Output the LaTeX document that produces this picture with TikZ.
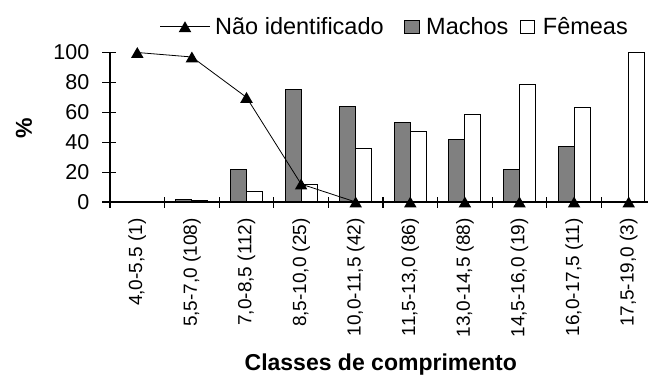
\documentclass[tikz,border=0pt]{standalone}
\usepackage{fontspec}
\setmainfont{Liberation Sans}
\usetikzlibrary{shapes.geometric}

\begin{document}
\begin{tikzpicture}[x=1pt, y=-1pt,
    macho/.style={draw=black, line width=0.9pt, fill=black!50},
    femea/.style={draw=black, line width=0.9pt, fill=white},
    marca/.style={regular polygon, regular polygon sides=3, fill=black, inner sep=0pt, minimum size=14.5pt, yshift=-1.8pt},
    eixo/.style={line width=1.2pt},
    valor/.style={anchor=east, inner sep=0pt, font=\fontsize{21.5}{22}\selectfont},
    classe/.style={rotate=90, anchor=east, inner sep=0pt, font=\fontsize{19}{20}\selectfont},
    legenda/.style={anchor=base west, inner sep=0pt, font=\fontsize{23.5}{24}\selectfont},
    titulo/.style={inner sep=0pt, font=\bfseries\fontsize{23}{24}\selectfont}]

        \useasboundingbox (0,0) rectangle (648,376);

        % Bars in percent, scope with y going up from the axis
        \begin{scope}[shift={(0,202)}, y=1.495pt]
        \draw[macho] (175.9,0) rectangle (191.9,1.5);
        \draw[femea] (191.9,0) rectangle (207.9,0.9);
        \draw[macho] (230.5,0) rectangle (246.5,22);
        \draw[femea] (246.5,0) rectangle (262.5,7);
        \draw[macho] (285.1,0) rectangle (301.1,75.5);
        \draw[femea] (301.1,0) rectangle (317.1,12);
        \draw[macho] (339.7,0) rectangle (355.7,64);
        \draw[femea] (355.7,0) rectangle (371.7,36);
        \draw[macho] (394.3,0) rectangle (410.3,53);
        \draw[femea] (410.3,0) rectangle (426.3,47);
        \draw[macho] (448.9,0) rectangle (464.9,42);
        \draw[femea] (464.9,0) rectangle (480.9,58.5);
        \draw[macho] (503.5,0) rectangle (519.5,21.5);
        \draw[femea] (519.5,0) rectangle (535.5,78.5);
        \draw[macho] (558.1,0) rectangle (574.1,37);
        \draw[femea] (574.1,0) rectangle (590.1,63);
        \draw[femea] (628.7,0) rectangle (644.7,100);

        % Points of the Nao identificado series
        \coordinate (p1) at (137.3,100);
        \coordinate (p2) at (191.9,97);
        \coordinate (p3) at (246.5,70);
        \coordinate (p4) at (301.1,12);
        \coordinate (p5) at (355.7,0);
        \coordinate (p6) at (410.3,0);
        \coordinate (p7) at (464.9,0);
        \coordinate (p8) at (519.5,0);
        \coordinate (p9) at (574.1,0);
        \coordinate (p10) at (628.7,0);
        \end{scope}

        % Axes with crossing ticks
        \draw[eixo] (110,52.5) -- (110,208);
        \draw[eixo] (110,202) -- (648,202);
        \draw[eixo] (102,52.5) -- (116,52.5);
        \draw[eixo] (102,82.4) -- (116,82.4);
        \draw[eixo] (102,112.3) -- (116,112.3);
        \draw[eixo] (102,142.2) -- (116,142.2);
        \draw[eixo] (102,172.1) -- (116,172.1);
        \draw[eixo] (102,202) -- (116,202);
        \draw[eixo] (164.6,197) -- (164.6,208);
        \draw[eixo] (219.2,197) -- (219.2,208);
        \draw[eixo] (273.8,197) -- (273.8,208);
        \draw[eixo] (328.4,197) -- (328.4,208);
        \draw[eixo] (383,197) -- (383,208);
        \draw[eixo] (437.6,197) -- (437.6,208);
        \draw[eixo] (492.2,197) -- (492.2,208);
        \draw[eixo] (546.8,197) -- (546.8,208);
        \draw[eixo] (601.4,197) -- (601.4,208);

        % Line and markers
        \draw[line width=0.8pt] (p1) -- (p2) -- (p3) -- (p4) -- (p5) -- (p6) -- (p7) -- (p8) -- (p9) -- (p10);
        \node[marca] (m1) at (p1) {};
        \node[marca] (m2) at (p2) {};
        \node[marca] (m3) at (p3) {};
        \node[marca] (m4) at (p4) {};
        \node[marca] (m5) at (p5) {};
        \node[marca] (m6) at (p6) {};
        \node[marca] (m7) at (p7) {};
        \node[marca] (m8) at (p8) {};
        \node[marca] (m9) at (p9) {};
        \node[marca] (m10) at (p10) {};

        % Values on the y axis
        \node[valor] (v100) at (89.5,52.5) {100};
        \node[valor] (v80) at (89.5,82.4) {80};
        \node[valor] (v60) at (89.5,112.3) {60};
        \node[valor] (v40) at (89.5,142.2) {40};
        \node[valor] (v20) at (89.5,172.1) {20};
        \node[valor] (v0) at (89.5,202) {0};
        \node[titulo, rotate=90] (pct) at (24,128) {\%};

        % Length classes
        \node[classe] (c1) at (137.3,218) {4,0-5,5 (1)};
        \node[classe] (c2) at (191.9,218) {5,5-7,0 (108)};
        \node[classe] (c3) at (246.5,218) {7,0-8,5 (112)};
        \node[classe] (c4) at (301.1,218) {8,5-10,0 (25)};
        \node[classe] (c5) at (355.7,218) {10,0-11,5 (42)};
        \node[classe] (c6) at (410.3,218) {11,5-13,0 (86)};
        \node[classe] (c7) at (464.9,218) {13,0-14,5 (88)};
        \node[classe] (c8) at (519.5,218) {14,5-16,0 (19)};
        \node[classe] (c9) at (574.1,218) {16,0-17,5 (11)};
        \node[classe] (c10) at (628.7,218) {17,5-19,0 (3)};
        \node[titulo, anchor=base] (xlab) at (380.8,370.5) {Classes de comprimento};

        % Legend
        \coordinate (l1) at (160,26.7);
        \coordinate (l2) at (210,26.7);
        \draw[line width=0.8pt] (l1) -- (l2);
        \node[marca] (lm) at (185,26.7) {};
        \node[legenda] (ln) at (215,34.5) {Não identificado};
        \draw[macho] (404.3,20) rectangle (419,33.3);
        \node[legenda] (lmacho) at (426,34.5) {Machos};
        \draw[femea] (520,20) rectangle (534.3,33.3);
        \node[legenda] (lfemea) at (542.7,34.5) {Fêmeas};
      \end{tikzpicture}
\end{document}
